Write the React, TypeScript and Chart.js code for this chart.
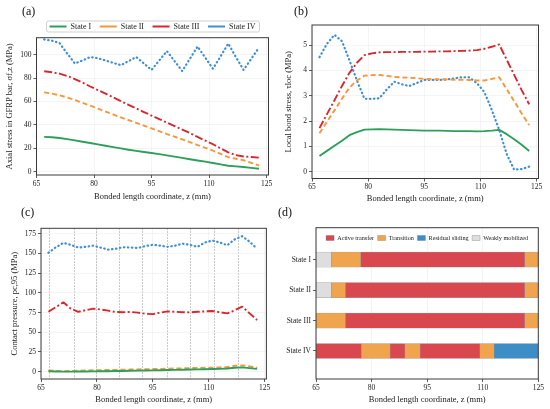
import { useEffect, useRef } from "react"
import { Chart, registerables } from "chart.js"

Chart.register(...registerables)

const SERIF = "'Liberation Serif', 'Times New Roman', serif"
Chart.defaults.font.family = SERIF

// bonded length positions, mm
const zPos = [67, 69, 71, 73, 75, 77, 79, 81, 83, 85, 87, 89, 91, 93, 95, 97, 99, 101, 103, 105, 107, 109, 111, 113, 115, 117, 119, 121, 123]
const zTicks = [65, 80, 95, 110, 125]

const stateNames = ["State I", "State II", "State III", "State IV"]

// (a) axial stress in bar, MPa
const aStateI = [29.8, 29.4, 28.8, 27.8, 26.8, 25.6, 24.5, 23.4, 22.2, 21.0, 19.9, 18.8, 17.8, 16.9, 16.0, 15.0, 14.0, 12.9, 11.8, 10.7, 9.6, 8.6, 7.5, 6.3, 5.1, 4.6, 4.0, 3.3, 2.5]
const aStateII = [67.8, 66.8, 65.3, 63.4, 61.3, 58.9, 56.4, 53.9, 51.4, 48.9, 46.4, 44.1, 41.8, 39.4, 37.0, 34.6, 32.2, 29.9, 27.6, 25.2, 22.8, 20.4, 18.0, 15.3, 12.4, 11.1, 9.8, 7.6, 5.3]
const aStateIII = [85.8, 85.0, 83.8, 81.8, 79.2, 76.2, 72.8, 69.8, 66.7, 63.6, 60.3, 57.2, 54.1, 51.0, 48.0, 45.0, 42.0, 39.0, 36.0, 33.0, 29.7, 26.6, 23.5, 20.0, 16.6, 14.2, 13.0, 12.6, 12.0]
const aStateIV = [113, 112, 110, 101, 92.5, 95, 98, 97, 95, 93, 91, 94.5, 98, 92.5, 87, 95, 103, 94.5, 86, 96.5, 107, 97.5, 88, 98.5, 109.5, 98, 87, 96.5, 106]
const aTicks = [0, 20, 40, 60, 80, 100]

// (b) local bond stress, MPa
const bStateI = [0.62, 0.82, 1.02, 1.22, 1.44, 1.56, 1.66, 1.67, 1.68, 1.67, 1.66, 1.65, 1.64, 1.63, 1.62, 1.62, 1.62, 1.61, 1.6, 1.6, 1.6, 1.59, 1.6, 1.62, 1.65, 1.48, 1.28, 1.06, 0.82]
const bStateII = [1.52, 1.97, 2.42, 2.88, 3.32, 3.6, 3.79, 3.81, 3.82, 3.78, 3.74, 3.72, 3.71, 3.69, 3.66, 3.65, 3.65, 3.64, 3.63, 3.63, 3.62, 3.6, 3.6, 3.66, 3.73, 3.26, 2.78, 2.3, 1.84]
const bStateIII = [1.72, 2.27, 2.82, 3.38, 3.9, 4.3, 4.6, 4.67, 4.71, 4.72, 4.72, 4.73, 4.73, 4.73, 4.74, 4.74, 4.75, 4.75, 4.76, 4.77, 4.78, 4.8, 4.85, 4.93, 5.02, 4.42, 3.82, 3.22, 2.66]
const bStateIV = [4.52, 5.05, 5.4, 5.15, 4.4, 3.6, 2.88, 2.87, 2.9, 3.25, 3.55, 3.45, 3.38, 3.5, 3.62, 3.62, 3.62, 3.64, 3.68, 3.73, 3.72, 3.5, 3.15, 2.45, 1.65, 0.7, 0.08, 0.1, 0.2]
const bTicks = [0, 1, 2, 3, 4, 5]

// (c) contact pressure, MPa
const cStateI = [0.6, 0.3, 0.1, 0.1, 0.2, 0.3, 0.4, 0.5, 0.6, 0.8, 0.9, 1.1, 1.3, 1.5, 1.7, 1.9, 2.1, 2.3, 2.5, 2.7, 2.9, 3.1, 3.3, 3.6, 4.0, 5.0, 5.5, 4.5, 3.5]
const cStateII = [1.5, 1.0, 0.6, 0.8, 1.2, 1.5, 1.8, 2.0, 2.1, 2.3, 2.5, 2.7, 2.9, 3.1, 3.3, 3.5, 3.8, 4.0, 4.2, 4.5, 4.8, 5.0, 5.2, 5.5, 6.0, 7.5, 8.0, 6.8, 5.0]
const cStateIII = [76, 82, 88, 80, 76, 78, 80, 79, 77.5, 75.8, 75.5, 75.8, 75, 73.5, 73, 75, 76.5, 76, 75.5, 75.3, 76, 76.5, 77, 75.5, 74, 78, 82.5, 74, 65.5]
const cStateIV = [151, 158, 163.5, 161, 157.5, 158.5, 160, 157.5, 155, 156, 158, 157.5, 157, 159.5, 161, 160, 158.5, 160, 162.5, 161, 158.5, 164, 166.5, 164, 160.5, 168, 172, 165, 156]
const cTicks = [0, 25, 50, 75, 100, 125, 150, 175]
const ribPos = [67.2, 74, 80, 86.2, 92.3, 99, 105.1, 111.7, 118]

// (d) transfer regimes along the bonded length
const phaseNames = ["Active transfer", "Transition", "Residual sliding", "Weakly mobilized"]
const phaseColors = ["#d9474f", "#f0a44e", "#3d8ec6", "#dedede"]
const stateBounds = [
  [65, 69.2, 77.1, 121.3, 125],
  [65, 69.2, 73, 121.3, 125],
  [65, 73, 121.3, 125],
  [65, 77.2, 85, 89, 93.1, 109.2, 113.1, 125],
]
const statePhases = [
  [3, 1, 0, 1],
  [3, 1, 0, 1],
  [1, 0, 1],
  [0, 1, 0, 1, 0, 1, 2],
]

const lineColors = ["#2ca05a", "#f7963a", "#d8282f", "#3c8fd8"]
const lineDashes = [[], [5, 3], [8, 2.5, 2, 2.5], [0.5, 3.5]]
const lineCaps = ["butt", "butt", "butt", "round"]
const xTitle = "Bonded length coordinate, z (mm)"

const tickFont = { family: SERIF, size: 7.5 }
const titleFont = { family: SERIF, size: 8.5 }

const framePlugin = {
  id: "frame",
  afterDatasetsDraw(chart: any) {
    const { ctx, chartArea: a } = chart
    ctx.save()
    ctx.strokeStyle = "#3a3a3a"
    ctx.lineWidth = 1
    ctx.strokeRect(a.left, a.top, a.right - a.left, a.bottom - a.top)
    ctx.restore()
  },
}

const legendFramePlugin = {
  id: "legendFrame",
  afterDraw(chart: any) {
    const boxes = chart.legend?.legendHitBoxes
    if (!boxes || !boxes.length) return
    const left = Math.min(...boxes.map((b: any) => b.left)) - 3
    const right = Math.max(...boxes.map((b: any) => b.left + b.width)) + 4
    const top = Math.min(...boxes.map((b: any) => b.top)) - 1.5
    const bottom = Math.max(...boxes.map((b: any) => b.top + b.height)) + 1.5
    const { ctx } = chart
    ctx.save()
    ctx.strokeStyle = "#c4c4c4"
    ctx.lineWidth = 0.8
    ctx.beginPath()
    ctx.roundRect(left, top, right - left, bottom - top, 2)
    ctx.stroke()
    ctx.restore()
  },
}

// put the legend inside the plot frame (panel d)
const legendInsidePlugin = {
  id: "legendInside",
  afterLayout(chart: any) {
    const lg = chart.legend
    if (!lg) return
    lg.top = chart.chartArea.top + 3.7
    lg.bottom = lg.top + 16
    lg.height = 16
  },
}

function xAxis(min: number, max: number, height: number, titlePad: number) {
  return {
    type: "linear",
    min,
    max,
    afterBuildTicks: (s: any) => {
      s.ticks = zTicks.map((v) => ({ value: v }))
    },
    afterFit: (s: any) => {
      s.height = height
    },
    grid: { color: "#ececec", lineWidth: 0.6, tickLength: 3, tickColor: "#333", tickWidth: 0.8 },
    border: { display: false },
    ticks: { font: tickFont, color: "#222", padding: 1.5, maxRotation: 0 },
    title: { display: true, text: xTitle, font: titleFont, color: "#222", padding: { top: 0, bottom: titlePad } },
  }
}

function yAxis(min: number, max: number, ticks: number[], width: number, titlePad: number, text: string) {
  return {
    type: "linear",
    min,
    max,
    afterBuildTicks: (s: any) => {
      s.ticks = ticks.map((v) => ({ value: v }))
    },
    afterFit: (s: any) => {
      s.width = width
    },
    grid: { color: "#ececec", lineWidth: 0.6, tickLength: 3, tickColor: "#333", tickWidth: 0.8 },
    border: { display: false },
    ticks: { font: tickFont, color: "#222", padding: 2 },
    title: { display: true, text, font: titleFont, color: "#222", padding: { top: titlePad, bottom: 0 } },
  }
}

function lineSets(series: number[][]) {
  return series.map((ys, i) => ({
    label: stateNames[i],
    data: zPos.map((z, k) => ({ x: z, y: ys[k] })),
    borderColor: lineColors[i],
    backgroundColor: lineColors[i],
    borderWidth: i === 3 ? 2.2 : 1.9,
    borderDash: lineDashes[i],
    borderCapStyle: lineCaps[i],
    borderJoinStyle: "round",
    pointRadius: 0,
    fill: false,
  }))
}

const base = {
  responsive: true,
  maintainAspectRatio: false,
  animation: false,
  events: [],
}

function makeA(): any {
  return {
    type: "line",
    data: { datasets: lineSets([aStateI, aStateII, aStateIII, aStateIV]) },
    options: {
      ...base,
      layout: { padding: { left: 0, right: 6.5, top: 14, bottom: 0 } },
      plugins: {
        legend: {
          position: "top",
          fullSize: false,
          maxHeight: 23.7,
          labels: {
            font: { family: SERIF, size: 8 },
            color: "#222",
            usePointStyle: true,
            pointStyle: "line",
            pointStyleWidth: 17,
            padding: 8.5,
          },
        },
        tooltip: { enabled: false },
      },
      scales: {
        x: xAxis(65, 125.5, 30, 3.4),
        y: yAxis(-2.8, 114.5, aTicks, 36.5, 5, "Axial stress in GFRP bar, σf,z (MPa)"),
      },
    },
    plugins: [framePlugin, legendFramePlugin],
  }
}

function makeB(): any {
  return {
    type: "line",
    data: { datasets: lineSets([bStateI, bStateII, bStateIII, bStateIV]) },
    options: {
      ...base,
      layout: { padding: { left: 0, right: 11.5, top: 25, bottom: 0 } },
      plugins: { legend: { display: false }, tooltip: { enabled: false } },
      scales: {
        x: xAxis(65, 125.5, 26.5, 0.9),
        y: yAxis(-0.27, 5.79, bTicks, 37, 8.2, "Local bond stress, τloc (MPa)"),
      },
    },
    plugins: [framePlugin],
  }
}

function makeC(): any {
  return {
    type: "line",
    data: { datasets: lineSets([cStateI, cStateII, cStateIII, cStateIV]) },
    options: {
      ...base,
      layout: { padding: { left: 0, right: 8.6, top: 23.3, bottom: 0 } },
      plugins: { legend: { display: false }, tooltip: { enabled: false } },
      scales: {
        x: xAxis(65, 125.5, 30, 3.9),
        ribs: {
          type: "linear",
          position: "bottom",
          min: 65,
          max: 125.5,
          afterBuildTicks: (s: any) => {
            s.ticks = ribPos.map((v) => ({ value: v }))
          },
          afterFit: (s: any) => {
            s.height = 0
          },
          ticks: { display: false },
          grid: { color: "#9a9a9a", lineWidth: 0.7, drawTicks: false },
          border: { display: false, dash: [1.5, 1.5] },
        },
        y: yAxis(-9.3, 182, cTicks, 41, 9.9, "Contact pressure, pc,95 (MPa)"),
      },
    },
    plugins: [framePlugin],
  }
}

function phaseSegments(p: number) {
  const out: { x: number[]; y: number }[] = []
  stateBounds.forEach((bounds, si) => {
    statePhases[si].forEach((ph, k) => {
      if (ph === p) out.push({ x: [bounds[k], bounds[k + 1]], y: si })
    })
  })
  return out
}

function makeD(): any {
  return {
    type: "bar",
    data: {
      datasets: phaseNames.map((name, p) => ({
        label: name,
        data: phaseSegments(p),
        backgroundColor: phaseColors[p],
        borderColor: "rgba(90,90,90,0.55)",
        borderWidth: 0.5,
        borderSkipped: false,
        barThickness: 15,
        grouped: false,
      })),
    },
    options: {
      ...base,
      indexAxis: "y",
      layout: { padding: { left: 0, right: 11.7, top: 22.7, bottom: 0 } },
      plugins: {
        legend: {
          position: "top",
          fullSize: false,
          maxHeight: 0.001,
          labels: { font: { family: SERIF, size: 6.2 }, color: "#222", boxWidth: 8, boxHeight: 5, padding: 3.5 },
        },
        tooltip: { enabled: false },
      },
      scales: {
        x: { ...xAxis(65, 125, 30, 3.9) },
        y: {
          type: "linear",
          reverse: true,
          offset: false,
          min: -1.05,
          max: 3.92,
          afterBuildTicks: (s: any) => {
            s.ticks = stateNames.map((_, i) => ({ value: i }))
          },
          afterFit: (s: any) => {
            s.width = 41
          },
          grid: { offset: false, drawOnChartArea: false, tickLength: 3, tickColor: "#333", tickWidth: 0.8 },
          border: { display: false },
          ticks: { font: tickFont, color: "#222", padding: 2, callback: (v: number) => stateNames[v] ?? "" },
        },
      },
    },
    plugins: [framePlugin, legendInsidePlugin],
  }
}

function Panel({ box, label, labelPos, make }: { box: number[]; label: string; labelPos: number[]; make: () => any }) {
  const ref = useRef<HTMLCanvasElement>(null)

  useEffect(() => {
    if (!ref.current) return
    const chart = new Chart(ref.current, make())
    return () => {
      chart.destroy()
    }
  }, [make])

  return (
    <>
      <div style={{ position: "absolute", left: box[0], top: box[1], width: box[2], height: box[3] }}>
        <canvas ref={ref} />
      </div>
      <div
        style={{
          position: "absolute",
          left: labelPos[0],
          top: labelPos[1],
          fontFamily: SERIF,
          fontSize: 12,
          lineHeight: "12px",
          color: "#111",
        }}
      >
        {label}
      </div>
    </>
  )
}

export default function App() {
  return (
    <div style={{ position: "absolute", left: 0, top: 0, width: 550, height: 409, background: "#fff", overflow: "hidden" }}>
      <Panel box={[0, 0, 275, 205]} label="(a)" labelPos={[22, 5]} make={makeA} />
      <Panel box={[275, 0, 275, 205]} label="(b)" labelPos={[294, 5]} make={makeB} />
      <Panel box={[0, 205, 275, 204]} label="(c)" labelPos={[21, 206]} make={makeC} />
      <Panel box={[275, 205, 275, 204]} label="(d)" labelPos={[278, 206]} make={makeD} />
    </div>
  )
}
